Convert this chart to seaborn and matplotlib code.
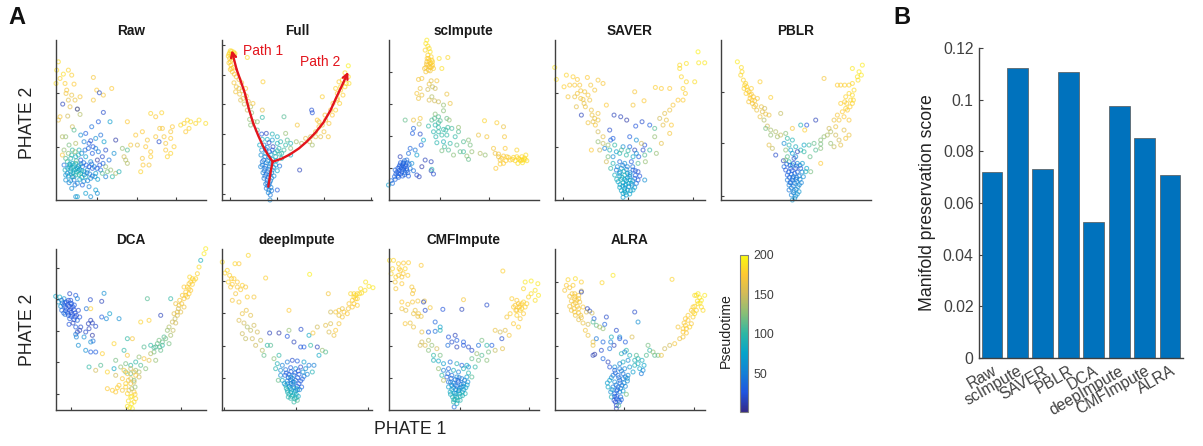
import pandas as pd
import matplotlib
matplotlib.use("Agg")
import matplotlib.pyplot as plt
import seaborn as sns
from matplotlib.cm import ScalarMappable
from matplotlib.colors import LinearSegmentedColormap, Normalize

# points: (phate1, phate2, pseudotime), axis units are arbitrary
raw_points = [
    (8,415,185),(3,390,185),(38,390,180),(23,378,185),(13,365,180),(48,375,178),(1,350,185),(28,350,178),(55,348,175),
    (113,368,170),(33,330,172),(31,320,168),(48,315,165),(73,310,170),(38,300,160),(58,300,165),(123,330,175),(168,335,175),
    (143,315,170),(113,300,170),(43,280,160),(65,273,155),(13,250,170),(36,252,150),(73,257,140),(8,240,165),
    (131,322,20),(65,273,15),(21,288,15),(143,263,20),(163,235,70),(128,235,30),(108,220,40),
    (50,220,150),(55,210,110),(30,190,130),(20,190,140),(75,195,60),(90,200,30),(105,178,20),(120,185,60),(135,195,40),
    (145,175,70),(180,180,10),(60,170,140),(40,165,120),(85,175,50),(100,170,30),(70,150,90),(50,150,100),(25,150,130),
    (20,135,170),(120,155,50),(110,140,30),(150,150,20),(175,140,60),(160,120,40),(140,130,20),(125,120,10),(105,115,60),
    (90,130,70),(75,120,30),(60,130,80),(45,125,90),(35,115,100),(25,105,40),(40,100,60),(55,105,80),(65,95,70),(80,100,40),
    (95,90,60),(110,95,30),(120,80,70),(135,90,40),(150,100,130),(165,90,130),(180,80,140),(190,85,90),(170,70,100),(150,70,50),
    (45,85,70),(60,75,90),(75,80,100),(90,70,90),(105,65,60),(50,70,40),(35,80,50),(55,90,85),(70,105,95),(85,85,88),(45,95,92),
    (60,110,100),(50,110,75),(30,60,60),(45,58,70),(55,60,40),(65,50,50),(80,45,30),(100,40,50),(120,30,70),(48,35,60),(90,20,70),
    (125,20,60),(60,10,60),(65,10,70),(105,10,60),(68,88,90),(52,82,80),(62,118,110),(78,68,85),(42,108,72),(72,92,65),
    (200,155,130),(215,150,110),(205,130,150),(210,120,140),(215,110,140),(225,165,170),(245,165,160),(240,195,175),(215,235,175),
    (285,260,180),(300,250,175),(318,262,180),(260,205,175),(275,180,170),(270,160,175),(285,145,175),(260,125,170),(262,105,175),
    (255,85,180),(312,215,170),(325,190,170),(330,170,170),(345,205,170),(350,220,175),(310,175,20),(330,150,175),(345,140,180),
    (335,130,180),(375,225,185),(385,230,180),(395,240,180),(405,235,185),(420,230,180),(430,240,185),(450,230,185),(390,205,175),
    (400,215,180),(345,185,175),(355,160,178),(320,215,172),(300,190,172),(280,105,170),(285,130,178),
]
raw_core = [
    (30,125,110),(38,140,125),(48,135,100),(58,145,130),(68,135,95),(78,140,60),(88,150,40),(98,155,35),(112,160,25),(128,145,45),
    (28,90,85),(36,95,75),(44,105,95),(52,98,85),(60,92,80),(68,100,70),(76,108,50),(84,112,40),(92,105,35),(100,100,30),(108,108,35),
    (116,100,50),(124,95,30),(132,105,25),(142,110,35),(30,75,65),(38,72,70),(46,78,85),(54,70,95),(62,84,90),(70,76,100),(78,88,80),
    (86,76,60),(94,82,45),(102,78,50),(110,72,40),(118,70,60),(126,62,70),(40,52,50),(58,45,45),(72,62,75),(84,56,55),(96,58,50),(140,80,110),(155,85,120),
]
full_points = [
    (22,442,185),(28,447,180),(34,444,185),(18,432,182),(26,436,180),(32,433,178),(38,440,186),(22,425,178),(28,420,175),(20,412,180),
    (26,405,178),(33,398,175),(24,392,178),(30,385,172),(36,378,172),(42,370,170),(50,362,165),(58,352,168),(35,352,170),(42,340,165),
    (50,335,165),(40,325,168),(52,318,165),(60,328,160),(70,335,172),(122,355,178),(75,428,185),(72,312,165),(62,305,160),(55,300,158),
    (78,296,155),(66,288,150),(85,280,140),(92,290,170),(75,270,148),(88,262,130),(120,270,160),(82,242,128),(95,235,135),(85,225,125),
    (105,235,130),(120,248,100),(185,250,110),(105,210,110),(118,198,25),(132,200,15),(150,198,90),(165,190,85),(175,175,95),(195,180,110),
    (120,182,85),(135,182,80),(150,180,70),(165,170,90),(190,165,100),(205,170,90),(112,165,80),(125,165,50),(140,172,20),(152,160,15),
    (170,155,90),(185,150,105),(118,150,60),(130,152,30),(142,145,45),(158,142,95),(172,138,100),(205,135,80),(116,135,60),(128,130,50),
    (140,128,60),(150,122,80),(162,118,80),(178,125,90),(120,115,40),(132,112,55),(145,108,60),(160,105,70),(172,102,40),(115,100,50),
    (128,95,40),(140,92,50),(150,90,60),(165,88,75),(232,90,15),(122,82,50),(132,78,40),(142,75,45),(155,72,60),(125,65,45),(135,60,40),
    (145,58,55),(130,48,50),(140,45,40),(132,35,45),(140,30,50),(148,28,45),(165,30,30),(144,15,45),(143,0,55),
    (190,200,130),(225,225,170),(205,155,125),(222,175,135),(238,170,140),(250,185,160),(262,175,150),(270,165,135),(280,205,165),(290,220,172),
    (295,190,160),(305,205,168),(318,190,170),(268,270,22),(270,262,25),(285,240,175),(310,240,170),(300,225,165),(320,230,172),(330,255,175),
    (340,270,180),(352,290,178),(300,310,178),(345,305,175),(340,335,180),(355,330,182),(362,315,178),(372,350,182),(378,370,185),(368,340,180),
    (350,355,178),(360,360,180),(380,350,184),(378,403,195),(368,382,186),(345,300,172),
]
full_core = [
    (124,120,45),(136,118,50),(148,114,55),(120,105,48),(130,102,42),(142,100,52),(154,98,62),(126,88,45),(136,85,42),(148,82,55),
    (128,72,42),(138,68,44),(148,66,50),(134,52,46),(142,52,44),(136,42,48),(146,38,50),(138,22,52),(130,140,70),(146,136,70),(160,130,85),
    (135,158,60),(150,150,30),(165,148,95),(178,140,95),(20,438,182),(30,440,184),(36,436,180),(24,448,186),(30,428,180),(24,415,178),(28,395,176),
    (355,340,180),(345,320,178),(332,290,174),(325,270,172),(308,255,170),(290,235,168),(280,190,160),(265,190,150),
]
scimpute_points = [
    (115,480,190),(112,470,188),(118,462,185),(122,455,186),(110,450,182),(125,445,188),(118,435,180),(128,430,180),(120,425,176),(130,420,178),
    (115,415,172),(125,410,176),(132,405,175),(122,400,172),(112,398,175),(135,395,178),(108,395,170),(152,425,188),(178,428,182),(160,395,186),
    (125,388,170),(100,365,172),(90,362,170),(128,358,160),(145,358,170),(122,348,165),(132,340,145),(140,335,150),(95,335,165),(118,332,150),
    (85,320,170),(100,315,165),(90,305,165),(130,310,140),(122,300,155),(138,298,150),(150,295,148),(175,318,165),(185,290,165),(165,285,130),
    (95,245,170),(75,240,165),(50,240,115),(92,228,140),(140,258,125),(165,268,125),(150,250,110),(130,240,110),(155,238,110),(175,245,115),
    (182,240,130),(140,225,95),(120,222,100),(150,218,100),(165,212,100),(190,215,105),(210,218,130),(75,215,35),(72,200,30),(95,198,20),
    (105,180,80),(135,205,95),(175,195,100),(200,190,100),(210,205,110),(145,172,95),(165,175,90),(185,170,100),(205,165,115),(225,175,110),
    (225,145,105),(160,148,120),(180,150,110),(195,135,125),(215,145,115),(240,180,125),(245,165,120),(250,145,130),(275,140,140),(290,135,130),
    (288,238,180),(325,232,178),(345,220,165),(270,195,165),(295,190,170),(348,190,170),(315,155,170),(320,140,165),(330,130,165),(335,120,170),
    (345,132,175),(322,95,175),(335,108,178),(355,130,178),(375,128,182),(390,125,184),(400,130,182),(405,120,185),(412,135,186),(385,150,180),
    (350,155,175),(365,120,178),(345,110,176),(415,118,186),(402,112,188),(380,118,182),(394,122,180),(408,126,184),(235,132,130),(240,122,115),
    (65,155,35),(80,150,45),(60,140,40),(85,135,70),(98,165,30),(110,120,15),(100,100,10),(128,115,15),(128,88,15),(135,78,20),(130,92,95),
    (55,120,40),(45,110,35),(35,130,15),(42,105,30),(50,100,30),(38,98,35),(28,95,28),(20,90,35),(32,88,32),(45,92,38),(55,88,30),(40,85,28),
    (30,80,30),(22,78,32),(50,82,40),(65,95,45),(75,88,40),(85,75,20),(92,70,15),(60,72,30),(42,72,32),(30,68,35),(20,62,35),(12,50,40),(8,58,38),
    (0,45,70),(52,105,28),(36,112,30),(62,108,35),(48,118,38),(70,110,60),
]
scimpute_core = [
    (116,425,178),(122,418,176),(128,412,178),(118,405,174),(126,398,172),(120,390,170),(114,408,172),(130,400,176),(132,415,180),(112,385,170),
    (25,84,30),(32,100,30),(40,92,32),(46,98,30),(54,94,32),(36,78,30),(48,76,34),(28,72,32),(18,70,34),(58,82,34),(34,105,32),(44,112,35),(56,112,36),
    (360,128,178),(372,122,180),(385,130,182),(396,118,184),(388,110,186),(410,122,186),(400,120,182),(352,118,176),(340,125,176),(330,138,170),
    (150,205,100),(160,195,100),(172,210,100),(142,190,95),(168,160,105),(150,232,105),(138,245,110),(178,218,105),
]
saver_points = [
    (35,375,180),(55,370,178),(68,362,175),(98,368,175),(130,360,170),(0,398,188),(5,362,185),(45,345,175),(75,345,172),(28,340,178),(78,328,170),
    (108,345,170),(90,325,168),(100,315,170),(145,350,172),(120,330,170),(60,310,165),(40,310,170),(85,302,165),(105,300,168),(65,280,160),(92,280,165),
    (110,270,165),(130,260,168),(155,285,175),(120,245,165),(115,235,160),(100,232,168),(130,240,165),(80,255,15),(178,255,15),(198,250,15),(216,240,10),
    (240,325,172),(235,285,170),(268,298,175),(302,338,178),(320,335,176),(345,335,175),(375,395,185),(395,410,188),(375,405,183),(430,445,195),(450,412,190),
    (432,412,190),(420,355,185),(395,355,182),(385,335,180),(392,320,178),(370,300,175),(355,285,172),(345,270,165),(330,260,160),(315,245,150),(325,225,160),
    (300,215,110),(285,225,30),(262,235,20),(243,222,25),(225,190,30),(270,165,25),(245,180,60),(300,190,130),(320,170,160),(345,200,170),(350,225,175),
    (130,205,150),(145,190,160),(130,175,130),(165,210,20),(175,185,30),(110,150,175),(135,150,150),(150,155,50),(165,150,90),(185,145,70),(205,160,60),
    (225,160,35),(240,150,15),(265,150,20),(285,150,100),(305,140,130),(160,130,120),(175,130,60),(195,140,90),(215,135,100),(235,130,80),(252,130,30),(270,135,110),
    (155,115,150),(175,110,90),(195,115,40),(210,110,60),(230,115,30),(250,110,110),(272,115,130),(168,95,100),(185,90,40),(200,95,75),(215,92,50),(235,90,30),
    (250,85,20),(180,75,85),(195,72,70),(210,75,90),(225,70,60),(240,65,30),(255,72,25),(270,60,60),(190,55,75),(205,52,85),(215,58,70),(230,50,65),(245,50,40),
    (195,38,80),(210,35,70),(222,40,60),(235,30,75),(205,20,70),(215,15,65),(225,18,75),(205,8,70),(212,22,82),(200,62,90),(218,80,72),(226,60,80),(212,44,66),
]
saver_core = [
    (188,100,60),(196,84,70),(204,104,45),(208,86,85),(218,100,50),(226,82,55),(234,100,40),(242,88,30),(186,62,85),(194,80,65),(202,68,80),(210,62,75),
    (218,66,70),(226,76,60),(234,58,70),(242,74,35),(250,60,30),(196,46,75),(204,42,70),(214,48,75),(222,50,80),(232,44,60),(240,38,65),(200,28,75),(210,28,78),(218,30,70),(228,28,72),
    (60,345,172),(68,320,168),(78,305,170),(88,290,162),(112,255,165),(122,225,170),(168,180,35),(160,165,130),(145,170,145),(180,165,100),(200,150,110),(220,148,100),(245,140,60),(260,170,150),(335,240,165),(380,370,182),(385,300,176),
]
pblr_points = [
    (50,415,192),(62,398,185),(64,385,184),(60,375,182),(68,360,180),(75,350,180),(118,355,178),(78,340,178),(85,325,176),(92,318,174),(98,310,172),(88,305,175),
    (102,298,172),(110,305,170),(95,290,170),(105,285,168),(122,280,165),(132,275,150),(150,308,178),(125,265,160),(135,258,162),(118,250,165),(145,255,165),(180,260,145),
    (130,240,140),(140,222,150),(135,215,120),(150,210,135),(165,205,140),(150,195,130),(170,190,135),(180,195,145),(195,200,125),(145,165,160),(155,155,145),(165,135,20),
    (188,118,15),(200,185,100),(215,215,170),(240,225,90),(258,225,25),(285,240,15),(252,210,178),(215,180,90),(205,165,95),(195,150,125),(210,150,70),(225,160,85),(240,150,90),
    (250,145,100),(268,130,115),(285,150,110),(300,168,120),(310,190,130),(325,215,150),(340,240,165),(330,205,140),(345,195,150),(355,180,150),(370,210,160),(385,195,165),(340,160,145),
    (360,165,160),(375,185,170),(330,170,130),(300,155,125),(265,165,105),(250,165,80),(300,110,175),(355,240,170),(370,250,175),(385,240,172),(345,220,165),(380,270,175),(360,290,178),
    (375,275,180),(390,300,182),(395,315,184),(375,310,180),(360,345,178),(372,345,178),(385,345,180),(395,350,182),(350,345,176),(400,330,184),(310,365,170),(395,395,190),(415,385,190),
    (410,370,188),(425,405,192),(412,360,186),(422,375,190),(395,290,180),(388,280,178),
    (190,170,60),(200,130,110),(215,140,65),(225,130,55),(195,120,125),(205,115,100),(220,125,20),(230,145,15),(215,105,80),(230,110,60),(245,110,70),(258,95,75),(270,85,120),(190,100,40),(195,90,25),
    (210,95,30),(225,95,20),(240,95,25),(255,85,90),(200,75,30),(212,78,40),(222,80,35),(235,72,50),(248,70,60),(200,60,45),(215,60,40),(228,55,55),(242,52,50),(205,45,50),(218,42,45),(232,40,60),
    (205,30,45),(220,28,55),(235,25,65),(212,15,50),(225,12,60),(215,0,65),(222,5,60),(228,68,42),(210,52,38),(218,70,48),
]
pblr_core = [
    (72,345,180),(80,330,178),(88,315,176),(76,320,178),(94,300,174),(84,295,172),(100,280,170),(108,270,165),(70,335,180),(92,335,178),
    (198,108,30),(208,104,35),(218,110,25),(228,102,40),(238,104,50),(204,84,35),(214,88,30),(230,84,35),(244,84,55),(206,68,35),(216,66,40),(226,62,45),(238,62,55),(208,52,40),(222,50,50),(236,46,55),(212,36,50),(226,32,55),(218,22,50),(230,18,62),
    (350,255,172),(365,265,175),(378,290,178),(385,320,182),(372,295,178),(398,300,182),(320,195,140),(300,180,125),(280,170,115),
]
dca_points = [
    (0,342,75),(12,340,85),(25,335,60),(42,350,20),(60,345,30),(45,330,25),(65,335,50),(8,325,70),(20,322,55),(32,325,25),(48,320,30),(15,312,60),(28,310,30),(40,312,20),(52,310,25),
    (18,300,35),(30,298,25),(42,300,20),(55,302,25),(68,300,20),(92,305,40),(28,288,40),(38,285,30),(50,288,25),(62,285,20),(72,280,25),(42,275,30),(55,272,25),(65,270,35),(40,258,25),
    (52,262,15),(60,250,30),(104,332,20),(145,351,60),(138,327,15),(105,305,178),(162,290,70),(138,280,30),(152,275,55),(190,275,60),(75,250,20),(65,235,15),(105,270,15),(110,262,15),(98,260,15),
    (120,252,20),(100,245,15),(90,235,20),(110,225,10),(85,220,60),(60,228,45),(72,240,15),(62,220,50),(105,205,60),(112,208,40),(68,195,60),(90,180,60),(105,175,30),(120,175,30),(140,170,178),
    (135,135,110),(100,130,100),(120,120,150),(155,115,180),(175,125,80),(180,105,150),(215,215,100),(175,200,180),(215,165,170),(205,180,100),(210,140,120),
    (230,215,170),(255,265,180),(275,335,110),(280,270,178),(315,285,15),(345,335,100),(310,210,120),(325,220,110),(335,240,130),(340,200,120),(300,190,105),(320,195,100),(295,175,120),(315,180,115),(285,170,140),
    (250,160,130),(265,155,170),(280,150,160),(300,150,130),(255,135,110),(240,145,100),(265,190,110),(285,195,100),(225,135,100),(240,120,130),(210,115,120),(225,110,115),(250,115,140),(180,150,120),(195,130,130),
    (205,120,170),(215,110,175),(225,95,160),(235,90,120),(240,105,170),(250,100,150),(270,125,125),(200,95,175),(190,75,175),(210,80,180),(225,80,165),(238,70,130),(220,60,160),(235,55,170),(228,65,140),
    (155,65,175),(170,60,176),(185,68,178),(180,55,175),(200,60,170),(215,50,180),(228,42,185),(238,48,180),(218,28,186),(228,20,188),(235,25,185),(222,8,190),(230,5,192),(215,12,188),(240,35,180),
    (340,250,140),(350,265,150),(355,290,160),(365,285,155),(375,295,160),(385,310,165),(360,320,165),(372,330,170),(380,345,172),(390,355,175),(400,365,178),(410,378,178),(385,370,175),(405,385,180),(420,395,182),(425,410,180),
    (430,430,185),(445,470,192),(450,485,192),(435,450,88),(405,360,175),(395,340,170),(415,390,178),(400,380,172),(368,305,150),(358,275,145),
]
dca_core = [
    (18,330,40),(28,322,30),(36,318,25),(44,322,28),(24,316,30),(32,305,28),(46,306,25),(56,316,28),(24,292,35),(36,292,28),(46,294,22),(58,292,25),(46,282,28),(58,280,25),(38,330,24),
    (320,205,115),(330,215,120),(345,225,135),(352,240,145),(312,190,110),(305,200,115),(295,188,110),(360,262,150),(365,295,158),(370,315,165),(378,320,170),(390,345,178),(400,350,176),(385,335,172),(395,370,178),(410,395,180),(402,400,182),
    (225,125,150),(235,115,160),(218,90,170),(210,70,178),(235,85,155),(225,40,188),
]
deepimpute_points = [
    (0,445,185),(38,440,182),(50,440,175),(78,465,182),(15,420,180),(8,412,182),(22,405,178),(35,395,178),(45,385,175),(60,375,178),(18,385,180),(30,378,176),(70,370,172),(55,362,174),
    (40,350,170),(30,330,172),(50,325,170),(75,340,178),(95,340,170),(72,300,165),(60,290,165),(85,285,160),(50,270,155),(65,262,150),(95,255,150),(75,250,140),(85,240,145),(105,235,150),
    (60,230,148),(70,215,145),(90,215,150),(115,210,145),(100,195,148),(120,180,140),(135,195,100),(145,195,110),(125,165,115),(170,165,100),(155,155,125),(142,232,15),(170,232,10),(200,240,130),
    (195,222,25),(236,243,20),(260,225,80),(272,232,170),(215,205,15),(235,190,25),(245,190,30),(265,195,100),(285,190,15),(300,180,130),(310,175,110),(290,165,80),
    (130,397,178),(262,408,195),(200,300,175),(318,350,170),(325,295,150),(340,295,170),(350,300,170),(360,305,165),(285,250,150),(310,255,160),(325,260,155),(340,240,175),(360,280,170),(375,290,175),
    (320,235,155),(335,225,165),(350,260,170),(385,350,182),(395,340,180),(380,320,175),(390,330,178),(405,350,180),(400,335,176),(395,320,174),(405,315,178),(415,365,185),(428,360,186),(440,372,188),(452,368,190),(430,385,188),
    (165,140,90),(180,135,50),(195,145,45),(210,150,20),(225,148,30),(245,145,70),(260,135,45),(275,135,50),(160,125,95),(175,120,60),(190,122,40),(205,128,30),(220,125,60),(235,130,20),(250,125,60),(270,115,90),
    (175,105,60),(188,105,35),(200,108,25),(215,105,45),(230,108,30),(245,102,40),(255,108,55),(180,90,80),(195,88,50),(205,92,30),(220,90,40),(235,88,25),(190,75,85),(200,72,60),(212,78,45),(225,72,35),(238,70,30),
    (195,60,90),(208,62,80),(220,58,70),(232,62,55),(200,48,95),(212,46,85),(222,48,90),(205,36,95),(218,34,90),(228,42,80),(215,25,100),(225,30,110),(168,90,115),(205,100,65),(212,85,75),(222,66,85),
]
deepimpute_core = [
    (192,112,30),(206,116,35),(218,112,30),(228,118,25),(242,115,60),(198,98,40),(210,96,50),(226,98,30),(240,94,35),(186,80,65),(196,80,60),(206,80,45),(216,84,45),(230,80,30),
    (192,66,90),(204,66,70),(214,68,55),(226,62,50),(196,54,88),(206,54,85),(216,52,80),(208,42,90),(198,40,95),(222,38,90),
    (395,350,180),(405,335,180),(400,345,184),(412,350,182),(390,310,172),(378,305,170),(418,352,186),(350,285,165),(365,295,172),(28,395,176),(25,370,174),(45,370,172),
]
cmf_points = [
    (3,450,185),(15,450,180),(30,440,178),(45,442,175),(60,443,178),(98,435,175),(12,425,180),(32,425,176),(50,425,182),(8,410,180),(30,405,172),(40,400,170),(58,405,178),(20,385,170),(40,380,175),(70,370,170),(75,360,172),
    (22,365,172),(72,350,170),(40,325,175),(58,318,172),(72,325,170),(88,328,170),(108,328,165),(125,308,170),(40,305,170),(52,300,160),(80,300,165),(75,290,165),(88,282,165),(98,282,165),(50,260,172),(75,250,165),(65,262,165),
    (105,325,15),(110,300,20),(163,303,25),(220,303,15),(295,316,20),(225,332,170),(343,418,178),(140,265,35),(155,250,70),(155,240,90),(140,237,40),(120,235,30),(100,235,160),(120,210,140),(100,205,150),(95,195,150),
    (110,195,155),(130,195,130),(145,185,150),(120,180,125),(135,165,100),(155,165,120),(180,220,25),(200,225,15),(205,210,30),(190,205,20),(225,205,30),(178,195,40),(205,190,15),(225,195,25),(240,190,20),(250,180,20),(270,195,40),
    (280,210,120),(310,195,30),(340,215,20),(295,195,100),(320,180,145),(342,185,160),(300,175,120),(265,170,130),(280,165,110),(270,150,120),(295,150,125),(250,155,115),(260,130,100),(235,135,80),
    (320,240,165),(335,235,150),(350,240,160),(362,225,170),(375,260,175),(390,250,178),(355,280,170),(365,290,178),(385,285,180),(375,310,176),(395,275,170),(405,290,175),(400,305,178),(385,330,175),(370,335,178),
    (415,320,178),(420,340,180),(428,350,185),(440,330,186),(450,345,190),(410,385,190),(428,388,192),(448,380,190),(440,360,188),(405,365,182),(392,310,175),(395,300,180),(382,300,176),
    (135,150,90),(150,148,80),(165,140,70),(185,145,40),(205,140,90),(220,135,30),(240,130,60),(150,125,130),(165,120,50),(180,125,35),(195,120,85),(210,115,50),(225,125,90),(240,112,95),
    (160,105,100),(175,100,30),(190,105,40),(205,100,60),(220,95,45),(235,100,70),(250,100,110),(165,90,140),(180,85,40),(195,82,50),(210,85,35),(225,80,50),(238,85,60),(180,70,70),(195,68,55),(205,72,45),(218,70,60),(232,68,75),
    (185,55,80),(198,52,70),(210,58,80),(222,55,85),(230,50,90),(192,40,90),(205,38,95),(215,42,85),(195,25,100),(205,20,85),(215,30,95),(200,32,92),(197,10,40),(202,50,64),(212,66,48),(226,62,66),(190,62,78),
]
cmf_core = [
    (178,110,40),(188,96,35),(200,92,45),(212,98,45),(228,90,50),(186,84,50),(200,76,40),(208,90,35),(218,78,45),(190,75,60),(202,62,55),(212,60,65),(224,72,65),(236,76,70),
    (186,48,85),(200,44,85),(214,50,85),(222,44,90),(208,30,90),(196,32,88),
    (390,320,172),(400,320,176),(410,310,178),(385,300,172),(395,315,176),(405,325,180),(380,315,174),(36,420,176),(44,410,174),(22,400,178),(90,290,166),
]
alra_points = [
    (62,395,185),(40,392,180),(80,385,178),(175,405,190),(142,383,182),(352,393,180),(55,375,178),(35,375,175),(45,368,172),(30,360,172),(80,358,160),(60,350,170),(72,345,172),(80,355,15),
    (45,342,170),(60,335,172),(72,335,170),(50,328,168),(62,322,170),(75,325,168),(45,312,168),(58,305,170),(72,305,172),(85,310,172),(98,305,15),(105,298,20),(60,295,170),(78,285,168),(95,295,160),(112,292,150),
    (72,272,160),(85,262,165),(100,258,150),(118,275,30),(155,280,20),(115,265,110),(125,255,115),(135,250,140),(145,245,130),(92,240,170),(150,258,35),(100,225,165),(125,215,45),(115,205,160),(115,195,165),(145,205,35),
    (185,240,20),(195,220,60),(170,220,85),(168,205,50),(240,295,20),(250,265,60),(232,220,155),(195,215,25),(212,205,30),(178,195,15),(165,185,40),(140,180,20),(115,165,15),(120,168,10),(145,155,35),(160,145,15),
    (165,130,25),(180,130,60),(200,170,95),(215,180,100),(225,165,90),(240,150,90),(250,140,85),(255,125,75),(260,110,45),(265,120,55),(280,195,120),(285,180,100),(300,165,110),(275,165,110),(295,175,130),(310,165,120),
    (320,165,165),(330,185,150),(345,195,150),(360,200,170),(375,215,165),(385,235,175),(395,245,175),(370,250,170),(385,220,170),(400,270,175),(415,280,178),(425,300,180),(415,310,178),(410,260,172),(405,250,180),(420,290,184),
    (430,320,186),(440,330,190),(450,345,190),(420,345,186),(430,350,192),(440,310,182),(445,300,184),(415,295,178),(385,245,176),(395,232,174),(392,255,178),
    (210,175,50),(220,150,60),(205,145,85),(195,140,55),(180,120,30),(195,125,45),(210,125,55),(225,130,65),(240,135,90),(175,105,40),(190,105,35),(205,110,40),(220,105,55),(235,115,70),(165,90,75),(180,85,55),(195,90,35),(205,95,45),
    (218,88,60),(160,70,80),(175,70,45),(190,70,35),(202,75,40),(212,72,55),(168,55,60),(180,50,30),(195,55,45),(205,58,70),(170,40,90),(185,35,25),(198,40,40),(215,48,120),(182,25,20),(195,25,30),(185,15,20),(180,42,35),(192,14,110),
    (158,82,70),(185,5,15),(200,32,35),(188,62,28),
]
alra_core = [
    (182,112,40),(192,98,45),(200,118,50),(212,100,50),(170,98,60),(184,76,45),(196,82,40),(208,82,55),(218,96,60),(172,62,70),(186,58,40),(198,66,50),(178,30,25),(192,30,35),(186,42,30),
    (52,350,172),(60,342,174),(66,330,172),(56,318,172),(68,312,170),(50,300,168),(62,285,168),(72,292,170),(80,278,166),(245,165,110),(262,150,85),(268,135,75),(250,155,95),
    (425,345,186),(435,338,188),(428,328,184),(436,322,190),(420,312,182),(410,300,178),(400,285,178),(392,275,176),(388,262,174),
]

panel_titles = ["Raw", "Full", "scImpute", "SAVER", "PBLR", "DCA", "deepImpute", "CMFImpute", "ALRA"]
panel_points = [raw_points + raw_core, full_points + full_core, scimpute_points + scimpute_core,
                saver_points + saver_core, pblr_points + pblr_core, dca_points + dca_core,
                deepimpute_points + deepimpute_core, cmf_points + cmf_core, alra_points + alra_core]
panel_xticks = [[123, 243, 361], [23, 163, 305, 446], [153, 300], [26, 221, 416], [216],
                [45, 211, 376], [5, 221, 436], [213, 420], [209, 418]]
panel_yticks = [[160, 320], [18, 108, 198, 287, 376, 466], [95, 192, 288, 385], [160, 320], [13, 170, 325],
                [50, 144, 239, 333, 426], [96, 193, 291, 389], [96, 193, 291, 389], [96, 193, 291, 386]]

stem_x = [138, 142, 146, 151]
stem_y = [40, 65, 90, 115]
path1_x = [151, 136, 123, 108, 93, 80, 68, 55, 43, 28]
path1_y = [115, 137, 160, 193, 230, 272, 320, 358, 392, 450]
path2_x = [151, 178, 203, 230, 253, 280, 303, 325, 343, 362, 378]
path2_y = [115, 124, 137, 155, 175, 203, 232, 270, 310, 350, 385]

methods = ["Raw", "scImpute", "SAVER", "PBLR", "DCA", "deepImpute", "CMFImpute", "ALRA"]
scores = [0.072, 0.1125, 0.073, 0.111, 0.0528, 0.0975, 0.0853, 0.071]
score_ticks = [0, 0.02, 0.04, 0.06, 0.08, 0.1, 0.12]
score_labels = ["0", "0.02", "0.04", "0.06", "0.08", "0.1", "0.12"]

W, H = 1203, 446
DARK = "#404040"
RED = "#e3141c"
parula = LinearSegmentedColormap.from_list(
    "parula", ["#352a87", "#1f55e0", "#1481d6", "#06a4ca", "#2eb7a4", "#87bf77", "#d1bb59", "#fec832", "#f9fb0e"])
norm = Normalize(1, 200)

sns.set_theme(style="white")
plt.rcParams["font.family"] = ["Liberation Sans", "DejaVu Sans"]


def add_ax(fig, left, top, right, bottom):
    # pixel box to figure fractions
    return fig.add_axes([left / W, 1 - bottom / H, (right - left) / W, (bottom - top) / H])


def style_axis(ax):
    sns.despine(ax=ax)
    for side in ["left", "bottom"]:
        ax.spines[side].set_color(DARK)
        ax.spines[side].set_linewidth(1.0)


fig = plt.figure(figsize=(W / 100, H / 100), dpi=100, facecolor="white")

lefts = [55.7, 222.3, 388.5, 554.7, 720.7, 55.7, 222.3, 388.5, 554.7]
for i, (name, pts) in enumerate(zip(panel_titles, panel_points)):
    if i < 5:
        ax = add_ax(fig, lefts[i], 39.5, lefts[i] + 150, 200)
        ax.set_ylim(0, 482)
    else:
        ax = add_ax(fig, lefts[i], 248.7, lefts[i] + 150, 410.3)
        ax.set_ylim(0, 485)
    ax.set_xlim(0, 450)
    df = pd.DataFrame(pts, columns=["x", "y", "t"])
    sns.scatterplot(data=df, x="x", y="y", hue="t", palette=parula, hue_norm=norm, s=8, linewidth=0.8,
                    legend=False, clip_on=False, ax=ax)
    # open circles, same colour on the edge
    dots = ax.collections[-1]
    colors = dots.get_facecolors().copy()
    colors[:, 3] = 0.62
    dots.set_edgecolors(colors)
    dots.set_facecolors("none")
    if name == "Full":
        ax.plot(stem_x, stem_y, color=RED, lw=1.7, clip_on=False)
        for px, py in [(path1_x, path1_y), (path2_x, path2_y)]:
            ax.plot(px[:-1], py[:-1], color=RED, lw=1.7, clip_on=False)
            ax.annotate("", xy=(px[-1], py[-1]), xytext=(px[-2], py[-2]), annotation_clip=False,
                        arrowprops=dict(arrowstyle="->", color=RED, lw=1.7, shrinkA=0, shrinkB=0, mutation_scale=9))
        ax.text(63, 448, "Path 1", color=RED, fontsize=10, va="center")
        ax.text(233, 413, "Path 2", color=RED, fontsize=10, va="center")
    style_axis(ax)
    ax.set_xticks(panel_xticks[i])
    ax.set_yticks(panel_yticks[i])
    ax.tick_params(direction="in", length=2.5, width=0.8, color=DARK, labelbottom=False, labelleft=False,
                   left=True, bottom=True)
    ax.set_xlabel("")
    ax.set_ylabel("")
    ax.set_title(name, fontsize=9.8, fontweight="bold", color="#1a1a1a", pad=3.5)

# colorbar
cax = add_ax(fig, 740, 254.7, 747.7, 412)
cbar = fig.colorbar(ScalarMappable(norm=norm, cmap=parula), cax=cax)
cbar.set_ticks([50, 100, 150, 200])
cbar.ax.tick_params(labelsize=8.9, labelcolor=DARK, length=1.5, width=0.6, direction="in", color=DARK, pad=4)
cbar.outline.set_edgecolor("#808080")
cbar.outline.set_linewidth(0.8)
fig.text(726 / W, 1 - 331 / H, "Pseudotime", rotation=90, fontsize=10.2, color="#222222", ha="center", va="center")

# panel B
bar_ax = add_ax(fig, 979.3, 48.3, 1182.7, 357.7)
sns.barplot(x=methods, y=scores, color="#0072bd", saturation=1, width=0.82, edgecolor="#555555", linewidth=0.5, ax=bar_ax)
bar_ax.set_xlim(-0.5, 7.5)
bar_ax.set_ylim(0, 0.12)
bar_ax.set_yticks(score_ticks)
bar_ax.set_yticklabels(score_labels)
style_axis(bar_ax)
bar_ax.tick_params(axis="both", direction="in", length=3, width=0.8, color=DARK, labelcolor=DARK, labelsize=11.3,
                   left=True, bottom=True, pad=4)
for lab in bar_ax.get_xticklabels():
    lab.set_rotation(30)
    lab.set_ha("right")
    lab.set_rotation_mode("anchor")
bar_ax.set_ylabel("Manifold preservation score", fontsize=12.7, color="#222222", labelpad=5)

fig.text(27 / W, 1 - 123 / H, "PHATE 2", rotation=90, fontsize=12.7, color="#222222", ha="center", va="center")
fig.text(27 / W, 1 - 330 / H, "PHATE 2", rotation=90, fontsize=12.7, color="#222222", ha="center", va="center")
fig.text(410 / W, 1 - 429 / H, "PHATE 1", fontsize=12.7, color="#222222", ha="center", va="center")
fig.text(8 / W, 1 - 18 / H, "A", fontsize=17, fontweight="bold", color="#111111", ha="left", va="center")
fig.text(893 / W, 1 - 18 / H, "B", fontsize=17, fontweight="bold", color="#111111", ha="left", va="center")

fig.savefig("out.png", dpi=100, facecolor="white")
